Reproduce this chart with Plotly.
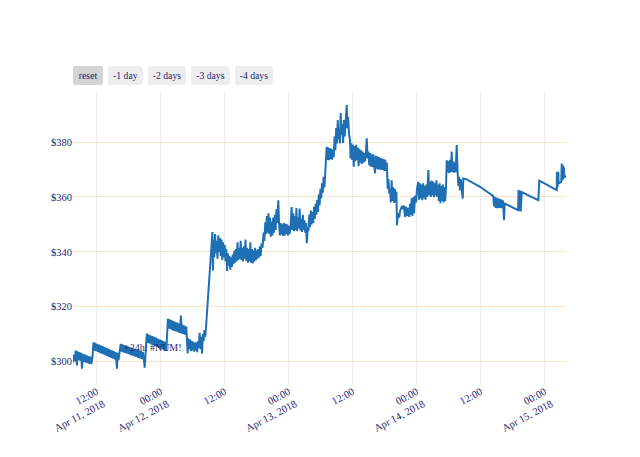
import pandas as pd
import plotly.graph_objects as go

# Hours since 2018-04-11 00:00 and prices (USD), split by day
apr11_hours = [7.56, 7.75, 7.9, 8.05, 8.2, 8.3, 8.4, 8.6, 8.75, 8.9, 9.05, 9.25, 9.4, 9.6, 9.75, 9.95,
               10.1, 10.3, 10.45, 10.65, 10.8, 11.0, 11.2,
               11.4, 11.55, 11.7, 11.9, 12.05, 12.25, 12.4, 12.6, 12.75, 12.95, 13.1, 13.3, 13.45, 13.65,
               13.8, 14.0, 14.15, 14.35, 14.5, 14.7, 14.85, 15.05, 15.2, 15.4, 15.55, 15.8, 15.95, 16.1,
               16.5, 16.65, 16.8, 17.0, 17.15, 17.35, 17.5, 17.7, 17.85, 18.05, 18.2, 18.4, 18.55, 18.75,
               18.9, 19.1, 19.25, 19.45, 19.6, 19.8, 19.95, 20.15, 20.3, 20.5, 20.65, 20.85, 21.0,
               21.4, 21.55, 21.7, 21.9, 22.05, 22.25, 22.4, 22.6, 22.75, 22.95, 23.1, 23.3, 23.45, 23.65, 23.8]
apr11_prices = [299.6, 302.5, 300.2, 304.0, 300.8, 298.6, 303.8, 300.5, 303.5, 300.3, 303.2, 297.4, 302.8, 299.9, 302.6, 299.7,
                302.3, 299.4, 302.0, 299.2, 301.8, 299.1, 301.5,
                307.0, 304.0, 306.8, 303.8, 306.5, 303.5, 306.2, 303.2, 305.9, 302.9, 305.6, 302.6, 305.3, 302.3,
                305.0, 302.0, 304.7, 301.7, 304.4, 301.4, 304.1, 301.1, 303.8, 300.8, 303.5, 297.4, 303.2, 300.5,
                306.5, 303.6, 306.3, 303.4, 306.0, 303.2, 305.8, 302.9, 305.5, 302.7, 305.3, 302.4, 305.0, 302.2,
                304.8, 301.9, 304.5, 301.7, 304.3, 301.4, 304.0, 301.2, 303.8, 300.9, 303.5, 300.8, 297.8,
                310.2, 306.8, 309.9, 306.6, 309.6, 306.3, 309.3, 306.0, 309.0, 305.7, 308.7, 305.4, 308.4, 305.1, 308.1]

apr12_hours = [24.0, 24.15, 24.35, 24.5, 24.7, 24.85, 25.05,
               25.35, 25.5, 25.65, 25.85, 26.0, 26.2, 26.35, 26.55, 26.7, 26.9, 27.05, 27.25, 27.4, 27.6,
               27.8, 27.95, 28.1, 28.3, 28.45, 28.65, 28.8,
               29.05, 29.2, 29.35, 29.5, 29.65, 29.8, 29.95, 30.1, 30.25, 30.4, 30.55, 30.7, 30.85, 31.0,
               31.15, 31.3, 31.45, 31.6, 31.75, 31.9, 32.05, 32.2, 32.35, 32.5,
               32.65, 32.85, 33.0, 33.2, 33.35, 33.5, 33.6, 33.7,
               33.8, 33.9, 34.05, 34.2, 34.35, 34.5, 34.65, 34.8, 34.95, 35.1, 35.25, 35.4, 35.55, 35.7,
               35.85, 36.0, 36.15, 36.3, 36.45, 36.6, 36.75, 36.9, 37.05, 37.2, 37.35, 37.5, 37.65,
               37.8, 37.95, 38.1, 38.25, 38.4, 38.55, 38.7, 38.85, 39.0, 39.15, 39.3, 39.45, 39.6, 39.75,
               39.9, 40.05, 40.2, 40.35, 40.5, 40.65, 40.8, 40.95, 41.1, 41.25, 41.4, 41.55, 41.7, 41.85,
               42.0, 42.15, 42.3, 42.45, 42.6, 42.75, 42.9,
               43.1, 43.3, 43.45, 43.6, 43.75,
               43.9, 44.05, 44.2, 44.35, 44.5, 44.65, 44.8, 44.95, 45.1, 45.25, 45.4, 45.55, 45.7, 45.85,
               46.05, 46.2, 46.35, 46.5, 46.65, 46.8, 46.95, 47.1, 47.25, 47.4, 47.55, 47.7, 47.85]
apr12_prices = [304.8, 307.8, 304.5, 307.5, 304.2, 307.2, 303.9,
                315.6, 312.0, 315.4, 311.8, 315.1, 311.5, 314.8, 311.2, 314.5, 311.0, 314.2, 310.7, 313.9, 310.5,
                316.8, 310.2, 313.4, 310.0, 313.1, 309.7, 312.8,
                303.0, 308.5, 304.5, 308.0, 303.8, 307.6, 304.2, 307.2, 303.6, 306.9, 304.0, 307.0, 303.4, 307.5,
                305.0, 310.5, 304.5, 309.0, 302.9, 310.0, 307.5, 311.5, 309.0, 312.5,
                317.4, 322.0, 327.1, 333.0, 336.9, 342.0, 345.4, 347.2,
                333.2, 344.5, 338.0, 346.5, 339.5, 344.0, 337.5, 346.0, 340.0, 345.0, 338.5, 344.5, 337.0, 343.5,
                338.0, 342.5, 336.5, 341.0, 333.0, 339.5, 335.0, 338.5, 333.5, 338.0, 334.5, 339.0, 335.5,
                340.5, 336.0, 341.0, 336.5, 343.5, 337.0, 341.5, 337.5, 344.0, 337.0, 341.5, 336.5, 342.0, 337.5,
                344.5, 336.8, 341.5, 336.0, 341.0, 336.5, 343.5, 336.0, 341.0, 335.8, 340.5, 336.5, 341.5, 337.0,
                340.5, 337.5, 341.0, 338.0, 342.0, 338.5, 343.0,
                341.5, 347.0, 344.0, 350.8, 346.5,
                353.0, 347.0, 354.0, 346.5, 352.5, 345.5, 351.0, 346.0, 352.5, 347.0, 353.5, 348.0, 355.5, 350.5,
                358.8, 350.0, 346.0, 350.5, 346.3, 350.0, 345.8, 350.5, 346.0, 350.2, 346.4, 350.0, 346.0]

apr13_hours = [48.0, 48.15, 48.35, 48.55, 48.7, 48.85, 49.0, 49.15, 49.3, 49.45, 49.6, 49.75, 49.9, 50.05,
               50.2, 50.35, 50.5, 50.65, 50.8, 50.95, 51.1, 51.25, 51.4, 51.55, 51.7, 51.85, 52.0, 52.15, 52.3,
               52.45, 52.6, 52.75, 52.9, 53.05, 53.2, 53.35, 53.5, 53.65, 53.8, 53.95, 54.1, 54.25, 54.4,
               54.55, 54.7, 54.85, 55.0, 55.13,
               55.25, 55.4, 55.55, 55.7, 55.85, 56.0, 56.15, 56.3,
               56.45, 56.6, 56.75, 56.9, 57.05, 57.2, 57.35, 57.5, 57.6, 57.75, 57.9, 58.05, 58.2, 58.35,
               58.5, 58.65, 58.88, 59.0, 59.15, 59.3, 59.49,
               59.6, 59.75, 59.9, 60.05, 60.2, 60.35, 60.5, 60.65, 60.8, 60.95, 61.1, 61.25, 61.4, 61.55,
               61.7, 61.85, 62.0, 62.15, 62.3, 62.45, 62.63, 62.8,
               62.95, 63.1, 63.25, 63.4, 63.55, 63.7, 63.85, 64.0, 64.18, 64.3, 64.45, 64.6, 64.75, 64.9,
               65.05, 65.2, 65.35, 65.5, 65.65, 65.8, 65.95, 66.1, 66.25,
               66.4, 66.55, 66.7, 66.85,
               67.0, 67.15, 67.3, 67.45, 67.6, 67.75, 67.9, 68.05, 68.2, 68.3, 68.5, 68.7, 68.9, 69.2,
               69.4, 69.6, 69.8, 70.0, 70.2, 70.4, 70.6, 70.75, 70.9, 71.05, 71.2, 71.35, 71.5,
               71.7, 71.9]
apr13_prices = [349.5, 346.5, 349.0, 356.3, 348.0, 354.0, 347.5, 353.0, 348.0, 356.0, 347.5, 352.5, 348.5, 355.8,
                347.8, 352.0, 347.2, 353.5, 348.0, 351.5, 347.0, 350.5, 343.1, 349.0, 347.5, 353.5, 349.0, 355.0, 350.0,
                354.5, 350.5, 356.4, 352.0, 357.5, 353.5, 359.0, 354.5, 361.0, 357.0, 363.0, 359.5, 365.0, 361.5,
                367.3, 363.5, 369.0, 374.0, 378.3,
                373.5, 378.0, 373.4, 377.8, 373.8, 377.5, 373.6, 377.2,
                374.5, 382.0, 377.0, 385.1, 379.5, 388.0, 381.0, 384.5, 379.5, 390.6, 382.5, 386.5, 379.6, 388.0,
                382.0, 387.0, 393.5, 385.0, 389.2, 383.0, 380.7,
                374.0, 379.5, 373.5, 379.0, 371.0, 378.5, 373.0, 379.0, 373.5, 378.0, 371.2, 377.5, 372.5, 377.0,
                372.0, 376.5, 372.5, 376.0, 373.0, 375.5, 381.4, 374.0,
                376.5, 371.5, 376.0, 371.0, 375.5, 370.8, 375.5, 370.5, 368.6, 375.0, 370.3, 374.8, 370.0, 374.5,
                370.0, 374.2, 369.8, 374.0, 369.8, 373.8, 369.5, 373.5, 369.5,
                372.5, 363.0, 366.5, 361.3,
                363.0, 358.0, 366.1, 358.5, 363.5, 357.8, 363.0, 358.0, 362.0, 349.7, 354.1, 352.5, 355.0, 356.4,
                356.0, 356.8, 352.7, 356.5, 353.0, 356.0, 352.7, 357.5, 353.5, 359.5, 353.0, 359.9, 354.0,
                360.5, 358.0]

apr14_hours = [72.05, 72.3, 72.45, 72.6, 72.75, 72.9, 73.05, 73.2, 73.35, 73.5, 73.65, 73.8, 73.95, 74.18, 74.35,
               74.5, 74.65, 74.8, 74.95, 75.1, 75.25, 75.4, 75.55, 75.7, 75.85,
               76.0, 76.15, 76.3, 76.45, 76.6, 76.75, 76.9, 77.05, 77.2, 77.35, 77.5,
               77.63, 77.78, 77.93, 78.08, 78.23, 78.38, 78.56, 78.7, 78.85, 79.0, 79.15, 79.3, 79.5, 79.65,
               79.8, 79.95, 80.1, 80.25, 80.4, 80.63, 80.74,
               81.4, 83.87, 86.36,
               86.5, 86.65, 86.8, 86.95, 87.1, 87.25, 87.4, 87.55, 87.7, 87.85, 88.0, 88.15, 88.37, 88.5,
               91.0, 91.1, 91.2, 91.35, 91.5, 91.69, 94.8]
apr14_prices = [363.0, 365.5, 359.0, 365.0, 359.5, 364.5, 358.8, 365.0, 359.5, 364.0, 359.0, 364.5, 360.0, 369.8, 360.5,
                365.5, 360.0, 366.0, 360.5, 365.5, 359.9, 365.0, 360.5, 366.1, 360.0,
                364.5, 358.5, 365.0, 357.7, 364.0, 358.5, 364.5, 358.0, 363.5, 358.5, 364.0,
                373.4, 369.0, 373.0, 368.7, 373.5, 369.0, 376.5, 369.0, 373.0, 368.8, 372.5, 369.0, 378.9, 370.0,
                364.0, 367.3, 362.5, 366.5, 363.0, 359.4, 366.7,
                366.4, 363.7, 360.3,
                356.5, 360.0, 356.0, 359.8, 355.9, 359.5, 356.0, 359.3, 355.9, 359.0, 356.0, 358.8, 351.5, 357.6,
                355.2, 362.5, 355.0, 362.3, 354.7, 361.8, 358.8]

apr15_hours = [94.99, 98.25, 98.3, 98.4, 98.55, 98.6, 98.7, 99.1, 99.19, 99.3, 99.4, 99.5, 99.6, 99.7, 99.81, 99.99]
apr15_prices = [365.9, 362.5, 369.2, 363.5, 369.2, 364.9, 365.0, 365.5, 372.2, 366.0, 371.5, 366.5, 370.8, 367.0, 367.6, 367.3]

start = pd.Timestamp("2018-04-11 00:00")
hours = apr11_hours + apr12_hours + apr13_hours + apr14_hours + apr15_hours
prices = apr11_prices + apr12_prices + apr13_prices + apr14_prices + apr15_prices
times = [start + pd.Timedelta(hours=h) for h in hours]

buttons = [("reset", None, None), ("-1 day", 1, "day"), ("-2 days", 2, "day"),
           ("-3 days", 3, "day"), ("-4 days", 4, "day")]

font_color = "#1f1f6b"
fig = go.Figure(go.Scatter(x=times, y=prices, mode="lines",
                           line=dict(color="#1f6fb5", width=2), showlegend=False))

rs_buttons = []
for label, count, step in buttons:
    if count is None:
        rs_buttons.append(dict(label=label, step="all"))
    else:
        rs_buttons.append(dict(label=label, count=count, step=step, stepmode="backward"))

fig.update_layout(
    width=640, height=457,
    margin=dict(l=65, r=82, t=83, b=82),
    paper_bgcolor="white", plot_bgcolor="white",
    font=dict(family="Liberation Serif, Times New Roman, serif", size=10.5, color=font_color),
    xaxis=dict(
        type="date", autorange=True,
        dtick=12 * 3600 * 1000, tick0="2018-04-11 00:00",
        tickangle=-28,
        showgrid=True, gridcolor="#eeeeee", zeroline=False, showline=False,
        rangeselector=dict(buttons=rs_buttons, font=dict(size=9.7, color=font_color)),
    ),
    yaxis=dict(
        range=[292.2, 398.6], dtick=20, tickprefix="$",
        showgrid=True, gridcolor="#ffe4c4", zeroline=False, showline=False,
    ),
    annotations=[dict(text="+24h: #NUM!", xref="paper", yref="paper", x=0.163, y=0.123,
                      xanchor="center", yanchor="middle",
                      showarrow=False, font=dict(size=10, color=font_color))],
)

fig.write_html("out.html")
